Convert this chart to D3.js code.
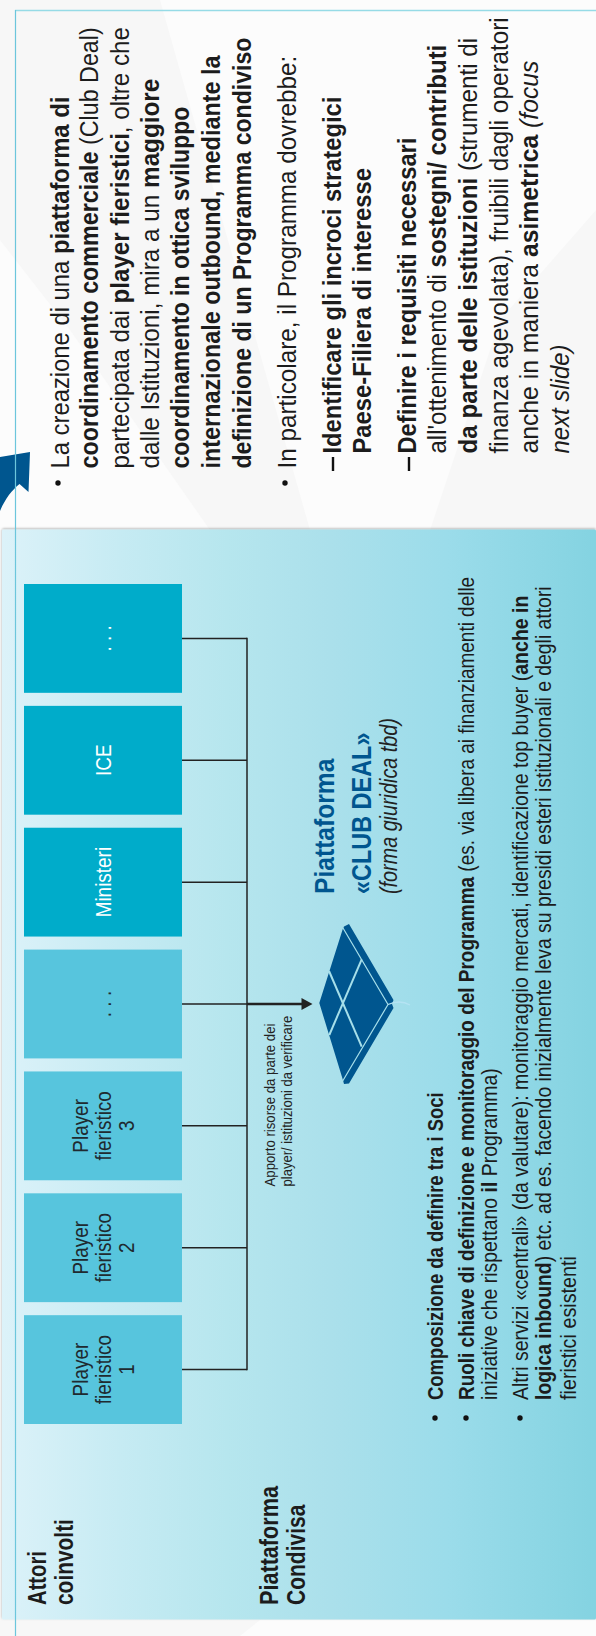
<!DOCTYPE html>
<html lang="it">
<head>
<meta charset="utf-8">
<title>Piattaforma Club Deal</title>
<script src="https://cdnjs.cloudflare.com/ajax/libs/d3/7.8.5/d3.min.js"></script>
<style>
  html, body { margin: 0; padding: 0; background: #fff; }
  svg { display: block; }
  text { font-family: "Liberation Sans", Arial, sans-serif; }
</style>
</head>
<body>
<svg id="slide" width="596" height="1636"></svg>
<script>
// Actors feeding the shared platform, listed from the first player upwards
const actorNames = ["Player fieristico 1", "Player fieristico 2", "Player fieristico 3", "Altri player", "Ministeri", "ICE", "Altre istituzioni"];
const actorLabels = [["Player", "fieristico", "1"], ["Player", "fieristico", "2"], ["Player", "fieristico", "3"], [". . ."], ["Ministeri"], ["ICE"], [". . ."]];
const actorGroups = ["player", "player", "player", "player", "istituzione", "istituzione", "istituzione"];

// Text runs: n = regular, b = bold, i = italic
const rightColumnText = [
  [["n", "La creazione di una "], ["b", "piattaforma di"]],
  [["b", "coordinamento commerciale "], ["n", "(Club Deal)"]],
  [["n", "partecipata dai "], ["b", "player fieristici"], ["n", ", oltre che"]],
  [["n", "dalle Istituzioni, mira a un "], ["b", "maggiore"]],
  [["b", "coordinamento in ottica sviluppo"]],
  [["b", "internazionale outbound, mediante la"]],
  [["b", "definizione di un Programma condiviso"]],
  [["n", "In particolare, il Programma dovrebbe:"]],
  [["b", "Identificare gli incroci strategici"]],
  [["b", "Paese-Filiera di interesse"]],
  [["b", "Definire i requisiti necessari"]],
  [["n", "all'ottenimento di "], ["b", "sostegni/ contributi"]],
  [["b", "da parte delle istituzioni "], ["n", "(strumenti di"]],
  [["n", "finanza agevolata), fruibili dagli operatori"]],
  [["n", "anche in maniera "], ["b", "asimetrica "], ["i", "(focus"]],
  [["i", "next slide)"]]
];
const platformText = [
  [["n", "Apporto risorse da parte dei"]],
  [["n", "player/ istituzioni da verificare"]]
];
const clubDealText = [
  [["b", "Piattaforma"]],
  [["b", "«CLUB DEAL»"]],
  [["i", "(forma giuridica tbd)"]]
];
const notesText = [
  [["b", "Composizione da definire tra i Soci"]],
  [["b", "Ruoli chiave di definizione e monitoraggio del Programma "], ["n", "(es. via libera ai finanziamenti delle"]],
  [["n", "iniziative che rispettano "], ["b", "il"], ["n", " Programma)"]],
  [["n", "Altri servizi «centrali» (da valutare): monitoraggio mercati, identificazione top buyer ("], ["b", "anche in"]],
  [["b", "logica inbound"], ["n", ") etc. ad es. facendo inizialmente leva su presidi esteri istituzionali e degli attori"]],
  [["n", "fieristici esistenti"]]
];
const sideHeadings = [
  [["b", "Attori"]],
  [["b", "coinvolti"]],
  [["b", "Piattaforma"]],
  [["b", "Condivisa"]]
];

// Layout of each text block: baseline across, start and end along the reading axis
const rightColumnLayout = {
  size: 26, fill: "#1c1c1c",
  baseline: [68.5, 98, 128.5, 159, 189, 220, 251, 296, 341, 371, 416, 445.5, 477, 507.5, 538, 569],
  start: [468.5, 468.5, 468.5, 468.5, 468.5, 468.5, 468.5, 468.5, 453.5, 453.5, 453.5, 453.5, 453.5, 453.5, 453.5, 453.5],
  end: [96.5, 27, 27, 78.5, 106.5, 55.5, 37.5, 55.5, 96.5, 168, 137.5, 44.5, 37.5, 17, 60.5, 344.5]
};
const platformLayout = { size: 14, fill: "#222", baseline: [274.5, 292], start: [1186.5, 1186.5], end: [1023.5, 1015.5] };
const clubDealLayout = {
  sizes: [28, 28, 23], fills: ["#00568f", "#00568f", "#222"],
  baseline: [334, 370.5, 397], start: [894, 894, 894], end: [758.5, 732.5, 718]
};
const notesLayout = {
  size: 22, fill: "#1c1c1c",
  baseline: [443, 473.5, 497, 528, 551, 576],
  start: [1400, 1400, 1400, 1400, 1400, 1400],
  end: [1092, 576, 1068, 595, 586, 1256]
};
const headingLayout = {
  size: 25, fill: "#1c1c1c",
  baseline: [45.5, 73, 277.5, 305],
  start: [1605, 1605, 1605, 1605],
  end: [1551, 1519, 1486, 1504.5]
};

const svg = d3.select("#slide");
const defs = svg.append("defs");

// Panel shading runs left to right in the drawn orientation
const panelGrad = defs.append("linearGradient").attr("id", "panelGrad");
panelGrad.selectAll("stop")
  .data([[0, "#dcf2f9"], [0.2, "#c6ebf3"], [0.38, "#b6e6ee"], [0.55, "#abe0eb"], [0.75, "#9bdcea"], [1, "#84d3e1"]])
  .join("stop")
  .attr("offset", d => d[0])
  .attr("stop-color", d => d[1]);
const shadow = defs.append("filter").attr("id", "panelShadow").attr("x", "-2%").attr("y", "-2%").attr("width", "104%").attr("height", "104%");
shadow.append("feDropShadow").attr("dx", 0).attr("dy", -1).attr("stdDeviation", 1.2).attr("flood-color", "#000").attr("flood-opacity", 0.3);

const polygon = d3.line();

// Slide background with its pale sweeps
svg.append("rect").attr("width", 596).attr("height", 1636).attr("fill", "#f7f7f7");
[
  [[160, 0], [596, 0], [596, 210], [500, 320], [430, 530], [310, 530]],
  [[0, 240], [70, 330], [210, 530], [0, 530]],
  [[260, 1620], [596, 1620], [596, 1636], [240, 1636]]
].forEach(p => svg.append("path").attr("d", polygon(p) + "Z").attr("fill", "#fcfcfc"));

// Frame of the upper column
svg.append("line").attr("x1", 15).attr("x2", 596).attr("y1", 10.5).attr("y2", 10.5).attr("stroke", "#96dbe6").attr("stroke-width", 1.5);

// Curved arrow coming up from the panel
svg.append("path")
  .attr("d", "M0,457 L30,452 L28.5,492 L19.5,484 C12,490 5,499 0,511 Z")
  .attr("fill", "#00568f");

// Light blue panel
svg.append("rect")
  .attr("x", 2).attr("y", 529.5).attr("width", 594).attr("height", 1090)
  .attr("rx", 1.5)
  .attr("fill", "url(#panelGrad)")
  .attr("filter", "url(#panelShadow)");

svg.append("line").attr("x1", 15.5).attr("x2", 15.5).attr("y1", 10).attr("y2", 1636).attr("stroke", "#6cc6dc").attr("stroke-width", 1.2);

// Band scale places the actor boxes along the vertical axis
const row = d3.scaleBand().domain(actorNames).range([1424, 584]).paddingInner(0.107);
const boxLeft = 24, boxRight = 182, busX = 247, arrowTip = 312.5;
const rowCenter = name => row(name) + row.bandwidth() / 2;
const boxFill = d3.scaleOrdinal().domain(["player", "istituzione"]).range(["#57c5dd", "#00acca"]);
const labelFill = d3.scaleOrdinal().domain(["player", "istituzione"]).range(["#1f2a30", "#ffffff"]);

// Connectors from each box to the shared bus
const stubs = svg.append("g").attr("stroke", "#222").attr("stroke-width", 1.5);
stubs.selectAll("line").data(actorNames).join("line")
  .attr("x1", boxRight).attr("x2", busX)
  .attr("y1", rowCenter).attr("y2", rowCenter);
stubs.append("line")
  .attr("x1", busX).attr("x2", busX)
  .attr("y1", rowCenter(actorNames[0]) + 0.75)
  .attr("y2", rowCenter(actorNames[actorNames.length - 1]) - 0.75);

const arrowRow = rowCenter(actorNames[3]);
svg.append("line").attr("x1", busX).attr("x2", arrowTip - 8).attr("y1", arrowRow).attr("y2", arrowRow)
  .attr("stroke", "#222").attr("stroke-width", 2.4);
svg.append("path")
  .attr("d", polygon([[arrowTip - 11, arrowRow - 6], [arrowTip, arrowRow], [arrowTip - 11, arrowRow + 6]]) + "Z")
  .attr("fill", "#222");

// Actor boxes and their centred labels
const boxes = svg.append("g").selectAll("g").data(actorNames).join("g");
boxes.append("rect")
  .attr("x", boxLeft).attr("width", boxRight - boxLeft)
  .attr("y", d => row(d)).attr("height", row.bandwidth())
  .attr("fill", (d, i) => boxFill(actorGroups[i]));
boxes.each(function (d, i) {
  const lines = actorLabels[i];
  const step = 23;
  const firstBase = lines.length === 3 ? 87.5 : 111;
  d3.select(this).selectAll("text").data(lines).join("text")
    .attr("text-anchor", "middle")
    .attr("font-size", 21.5)
    .attr("fill", labelFill(actorGroups[i]))
    .attr("transform", (t, j) => `translate(${firstBase + j * step},${rowCenter(d)}) rotate(-90) scale(0.88,1)`)
    .text(t => t);
});

// Runs are written along the reading axis and squeezed to fit their measured span
function drawLines(lines, layout) {
  const g = svg.append("g");
  lines.forEach((runs, i) => {
    const t = g.append("text")
      .attr("font-size", layout.sizes ? layout.sizes[i] : layout.size)
      .attr("fill", layout.fills ? layout.fills[i] : layout.fill)
      .attr("xml:space", "preserve");
    runs.forEach(([style, str]) => {
      t.append("tspan")
        .attr("font-weight", style === "b" ? "700" : "400")
        .attr("font-style", style === "i" ? "italic" : "normal")
        .text(str);
    });
    const k = (layout.start[i] - layout.end[i]) / t.node().getComputedTextLength();
    t.attr("transform", `translate(${layout.baseline[i]},${layout.start[i]}) rotate(-90) scale(${k},1)`);
  });
}
drawLines(rightColumnText, rightColumnLayout);
drawLines(platformText, platformLayout);
drawLines(clubDealText, clubDealLayout);
drawLines(notesText, notesLayout);
drawLines(sideHeadings, headingLayout);

// Bullets and dashes of the lists
const bullets = [[58, 483], [285, 483], [435, 1418], [466, 1418], [520, 1418]];
svg.append("g").selectAll("circle").data(bullets).join("circle")
  .attr("cx", d => d[0]).attr("cy", d => d[1]).attr("r", 2.7).attr("fill", "#111");
const dashes = [[333, 464], [409, 464]];
svg.append("g").selectAll("rect").data(dashes).join("rect")
  .attr("x", d => d[0] - 1.2).attr("y", d => d[1] - 7).attr("width", 2.4).attr("height", 14).attr("fill", "#111");

// Platform icon: a solid diamond cut by pale seams
const iconOutline = [[319.3, 1003], [342.7, 929.3], [344, 926.5], [349, 924], [393.5, 1000], [392, 1004], [393.5, 1008], [349, 1083.5], [344, 1084], [342.7, 1079.3]];
svg.append("path").attr("d", polygon(iconOutline) + "Z").attr("fill", "#00568f");
const iconSeams = svg.append("g").attr("fill", "none").attr("stroke", "#a6dfea");
iconSeams.append("path").attr("d", polygon([[361.7, 959.3], [329.3, 1035]])).attr("stroke-width", 2);
iconSeams.append("path").attr("d", polygon([[329, 971], [361.7, 1046.7]])).attr("stroke-width", 2);
iconSeams.append("path").attr("d", polygon([[342.7, 927.5], [388, 1004.5], [342.7, 1081]])).attr("stroke-width", 1.2);
svg.append("path").attr("d", "M388,1004.5 C396,1001 403,1001 410,1005").attr("fill", "none").attr("stroke", "#b5e3f3").attr("stroke-width", 1.3);
</script>
</body>
</html>
